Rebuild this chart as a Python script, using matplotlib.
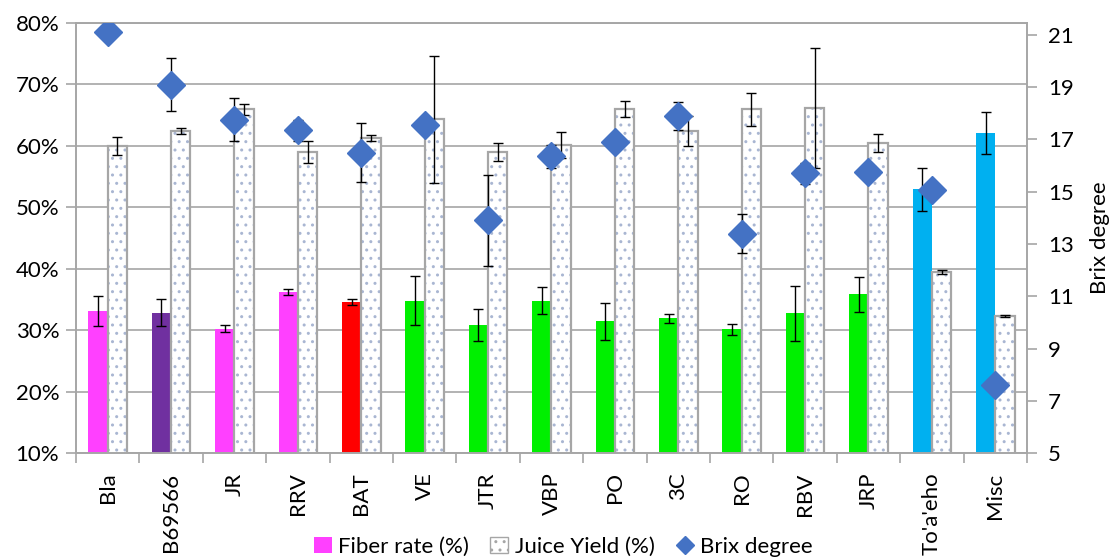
import numpy as np
import matplotlib.pyplot as plt
from matplotlib.patches import Patch
from matplotlib.lines import Line2D

plt.rcParams['font.family'] = ['Lato', 'DejaVu Sans']

# --- data ---
varieties = ["Bla", "B69566", "JR", "RRV", "BAT", "VE", "JTR", "VBP", "PO", "3C",
             "RO", "RBV", "JRP", "To'a'eho", "Misc"]
fiber = [33.1, 32.8, 30.2, 36.2, 34.5, 34.8, 30.8, 34.8, 31.4, 31.9, 30.1, 32.7, 35.8, 52.9, 62.0]
fiber_err = [2.5, 2.2, 0.55, 0.45, 0.5, 4.0, 2.6, 2.15, 3.0, 0.7, 0.9, 4.55, 2.85, 3.45, 3.4]
juice = [60.0, 62.4, 65.9, 59.0, 61.3, 64.3, 58.9, 60.1, 65.9, 62.4, 65.9, 66.1, 60.4, 39.4, 32.3]
juice_err = [1.45, 0.45, 0.85, 1.75, 0.5, 10.3, 1.45, 2.15, 1.3, 2.45, 2.7, 9.8, 1.5, 0.3, 0.2]
brix = [21.1, 19.1, 17.75, 17.35, 16.5, 17.55, 13.9, 16.35, 16.9, 17.9, 13.4, 15.7, 15.75, 15.05, 7.6]
brix_err = [0.3, 1.02, 0.82, 0.4, 1.13, 0.3, 1.73, 0.45, 0.3, 0.52, 0.74, 0.4, 0.3, 0.3, 0.3]

magenta = '#FF40FF'
purple = '#7030A0'
red = '#FF0000'
green = '#00F000'
cyan = '#00B0F0'
bar_colors = [magenta, purple, magenta, magenta, red] + [green] * 8 + [cyan, cyan]

grey = '#A6A6A6'
dot_col = '#A9B6D2'
diamond_col = '#4472C4'
fs = 16

x = np.arange(len(varieties))
w = 0.305

fig = plt.figure(figsize=(11.09, 5.60), dpi=100)
ax = fig.add_axes([0.0685, 0.191, 0.8575, 0.7685])
ax2 = ax.twinx()

# primary axis: percentages
ax.set_ylim(10, 80)
ax.set_xlim(-0.5, len(varieties) - 0.5)
ax.set_yticks(np.arange(10, 81, 10))
ax.set_yticklabels([f"{v}%" for v in range(10, 81, 10)])
ax.yaxis.grid(True, color=grey, lw=1.2)
ax.set_axisbelow(True)

ax.bar(x - w / 2, fiber, w, color=bar_colors, zorder=2)
ax.errorbar(x - w / 2, fiber, yerr=fiber_err, fmt='none', ecolor='black',
            elinewidth=1.0, capsize=3.7, capthick=1.0, zorder=4)

ax.bar(x + w / 2, juice, w, color='white', edgecolor=dot_col, hatch='..', lw=0, zorder=2)
ax.bar(x + w / 2, juice, w, fill=False, edgecolor=grey, lw=1.6, zorder=3)
ax.errorbar(x + w / 2, juice, yerr=juice_err, fmt='none', ecolor='black',
            elinewidth=1.0, capsize=3.7, capthick=1.0, zorder=4)

# secondary axis: brix
ax2.set_ylim(5, 21.47)
ax2.set_yticks(np.arange(5, 22, 2))
ax2.errorbar(x, brix, yerr=brix_err, fmt='none', ecolor='black',
             elinewidth=1.0, capsize=3.7, capthick=1.0, zorder=2)
ax2.plot(x, brix, 'D', color=diamond_col, markersize=14.5, ls='none', zorder=3)
ax2.set_ylabel("Brix degree", fontsize=fs, labelpad=12)

# ticks and spines
ax.set_xticks(x)
ax.set_xticklabels(varieties, rotation=90, fontsize=fs)
ax.set_xticks(np.arange(-0.5, len(varieties)), minor=True)
ax.tick_params(axis='x', which='major', length=0, pad=14)
ax.tick_params(axis='x', which='minor', length=7, color=grey, width=1.2)
ax.tick_params(axis='y', length=7, color=grey, width=1.2, labelsize=fs, pad=5)
ax2.tick_params(axis='y', length=7, color=grey, width=1.2, labelsize=fs, pad=8)
for a in (ax, ax2):
    for s in a.spines.values():
        s.set_color(grey)
        s.set_linewidth(1.2)

handles = [Patch(facecolor=magenta, edgecolor='none'),
           Patch(facecolor='white', edgecolor=grey, hatch='..'),
           Line2D([], [], marker='D', color=diamond_col, ls='none', markersize=9)]
fig.legend(handles, ["Fiber rate (%)", "Juice Yield (%)", "Brix degree"],
           loc='lower center', bbox_to_anchor=(0.508, -0.03), ncol=3, frameon=False,
           fontsize=fs, handlelength=0.8, handletextpad=0.3, columnspacing=0.95)

fig.savefig("out.png", dpi=100)
